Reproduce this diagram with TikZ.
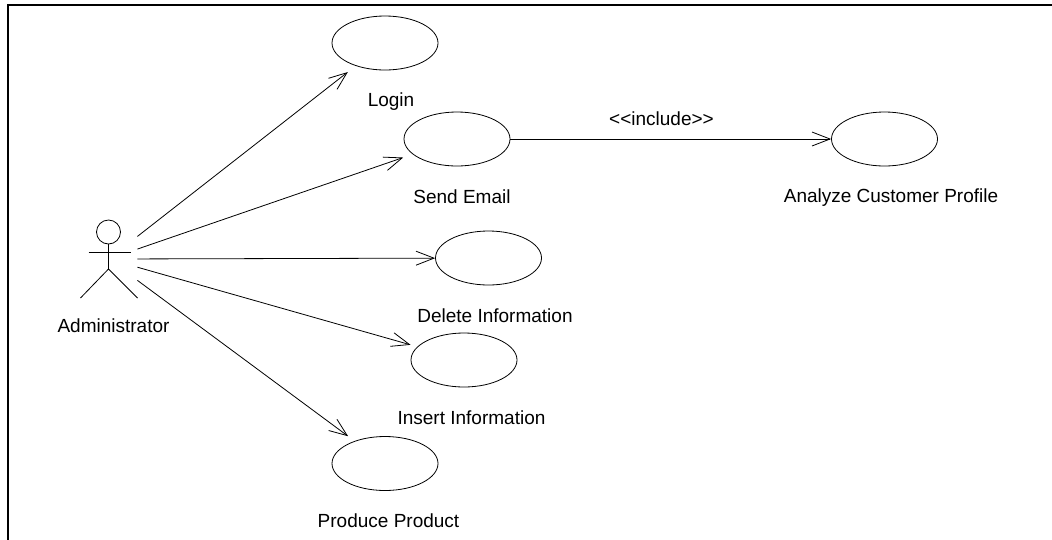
\documentclass[tikz,border=0pt]{standalone}
\usepackage{fontspec}
\newfontfamily\umlfont{Liberation Sans}
\usetikzlibrary{shapes.geometric,arrows.meta}

\begin{document}
\begin{tikzpicture}[x=1pt,y=-1pt,line width=.8pt,
		usecase/.style={draw,ellipse,minimum width=106pt,minimum height=54pt,inner sep=0pt},
		uclabel/.style={anchor=base,inner sep=0pt,font=\fontsize{19}{22}\umlfont},
		assoc/.style={-{Straight Barb[length=18pt,width=14pt]}}]
		\useasboundingbox (0,0) rectangle (1052,539);
		\draw[line width=2pt] (7.5,545) -- (7.5,4.5) -- (1060,4.5);
		% actor
		\node[minimum width=57pt,minimum height=78pt,inner sep=0pt] (admin) at (108.5,259) {};
		\begin{scope}[shift={(admin.center)}]
			\draw (0,-27) circle (12pt);
			\draw (0,-15) -- (0,10);
			\draw (-20,-7) -- (22,-7);
			\draw (-28,39) -- (0,10) -- (29,39);
		\end{scope}
		\node[uclabel] (admin-txt) at (113.5,332) {Administrator};
		% use cases
		\node[usecase] (login) at (385,43) {};
		\node[usecase] (send) at (457,139) {};
		\node[usecase] (analyze) at (884.5,139) {};
		\node[usecase] (delete) at (488.5,258) {};
		\node[usecase] (insert) at (464,360) {};
		\node[usecase] (produce) at (385,463.5) {};
		\node[uclabel] (login-txt) at (391,106.7) {Login};
		\node[uclabel] (send-txt) at (462,203) {Send Email};
		\node[uclabel] (analyze-txt) at (891,202) {Analyze Customer Profile};
		\node[uclabel] (delete-txt) at (495,322) {Delete Information};
		\node[uclabel] (insert-txt) at (471.5,424) {Insert Information};
		\node[uclabel] (produce-txt) at (388.5,527) {Produce Product};
		\node[uclabel] (include-txt) at (661.5,125) {<<include>>};
		% associations
		\draw[assoc,shorten >=10pt] (admin) -- (login);
		\draw[assoc,shorten >=10pt] (admin) -- (send);
		\draw[assoc] (admin) -- (delete);
		\draw[assoc,shorten >=7pt] (admin) -- (insert);
		\draw[assoc,shorten >=8pt] (admin) -- (produce);
		\draw[assoc] (send) -- (analyze);
	\end{tikzpicture}
\end{document}
